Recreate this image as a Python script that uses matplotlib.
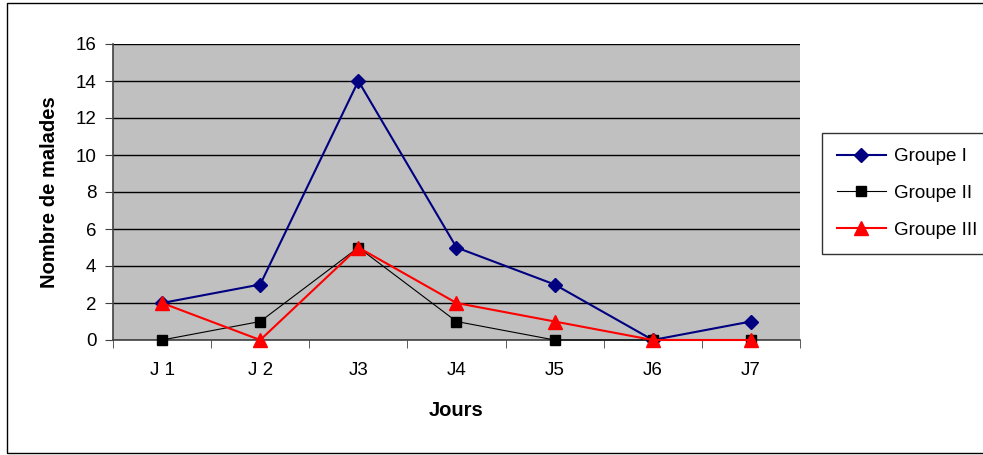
import matplotlib
matplotlib.use("Agg")
import matplotlib.pyplot as plt
from matplotlib.patches import Rectangle
import numpy as np

plt.rcParams['font.family'] = ['Liberation Sans', 'DejaVu Sans']

days = ["J 1", "J 2", "J3", "J4", "J5", "J6", "J7"]
groupe1 = [2, 3, 14, 5, 3, 0, 1]
groupe2 = [0, 1, 5, 1, 0, 0, 0]
groupe3 = [2, 0, 5, 2, 1, 0, 0]
yticks = [0, 2, 4, 6, 8, 10, 12, 14, 16]

fig = plt.figure(figsize=(9.83, 4.55), dpi=100)
fig.patches.append(Rectangle((7/983, 0.004), 1.2, 0.989, transform=fig.transFigure,
                             fill=False, edgecolor='black', linewidth=1.0))
ax = fig.add_axes([113/983, 1-340/455, 687/983, 296/455])
ax.set_facecolor('#C0C0C0')
x = np.arange(len(days))
ax.plot(x, groupe1, color='#000080', marker='D', markersize=7.5, linewidth=1.5, label='Groupe I', clip_on=False, zorder=3)
ax.plot(x, groupe2, color='black', marker='s', markersize=7.5, linewidth=0.8, label='Groupe II', clip_on=False, zorder=4)
ax.plot(x, groupe3, color='#FF0000', marker='^', markersize=10, linewidth=1.5, label='Groupe III', clip_on=False, zorder=5)

ax.set_xlim(-0.5, len(days) - 0.5)
ax.set_ylim(0, 16)
ax.set_yticks(yticks)
ax.set_yticklabels([str(v) for v in yticks], fontsize=13.5)
ax.set_xticks(x)
ax.set_xticklabels(days, fontsize=13.5)
ax.set_xticks(np.arange(-0.5, len(days)), minor=True)
ax.tick_params(axis='x', which='major', length=0, pad=16)
ax.tick_params(axis='x', which='minor', length=6, direction='out', color='#404040')
ax.tick_params(axis='y', length=6, direction='out', color='#404040', pad=6)
ax.grid(axis='y', color='black', linewidth=1.0)
ax.set_axisbelow(True)
for s in ['top', 'right']:
    ax.spines[s].set_visible(False)
for s in ['left', 'bottom']:
    ax.spines[s].set_color('#404040')
    ax.spines[s].set_linewidth(1.2)

ax.set_xlabel('Jours', fontsize=14.5, fontweight='bold', labelpad=16)
ax.set_ylabel('Nombre de malades', fontsize=14.5, fontweight='bold', labelpad=12)

leg = ax.legend(loc='upper left', bbox_to_anchor=(822/983, 1-133/455), bbox_transform=fig.transFigure,
                fontsize=13.5, frameon=True, fancybox=False, edgecolor='black', borderpad=0.8,
                handlelength=2.6, labelspacing=1.05, handletextpad=0.45, borderaxespad=0)
leg.get_frame().set_linewidth(1.0)

fig.savefig('out.png', dpi=100)
